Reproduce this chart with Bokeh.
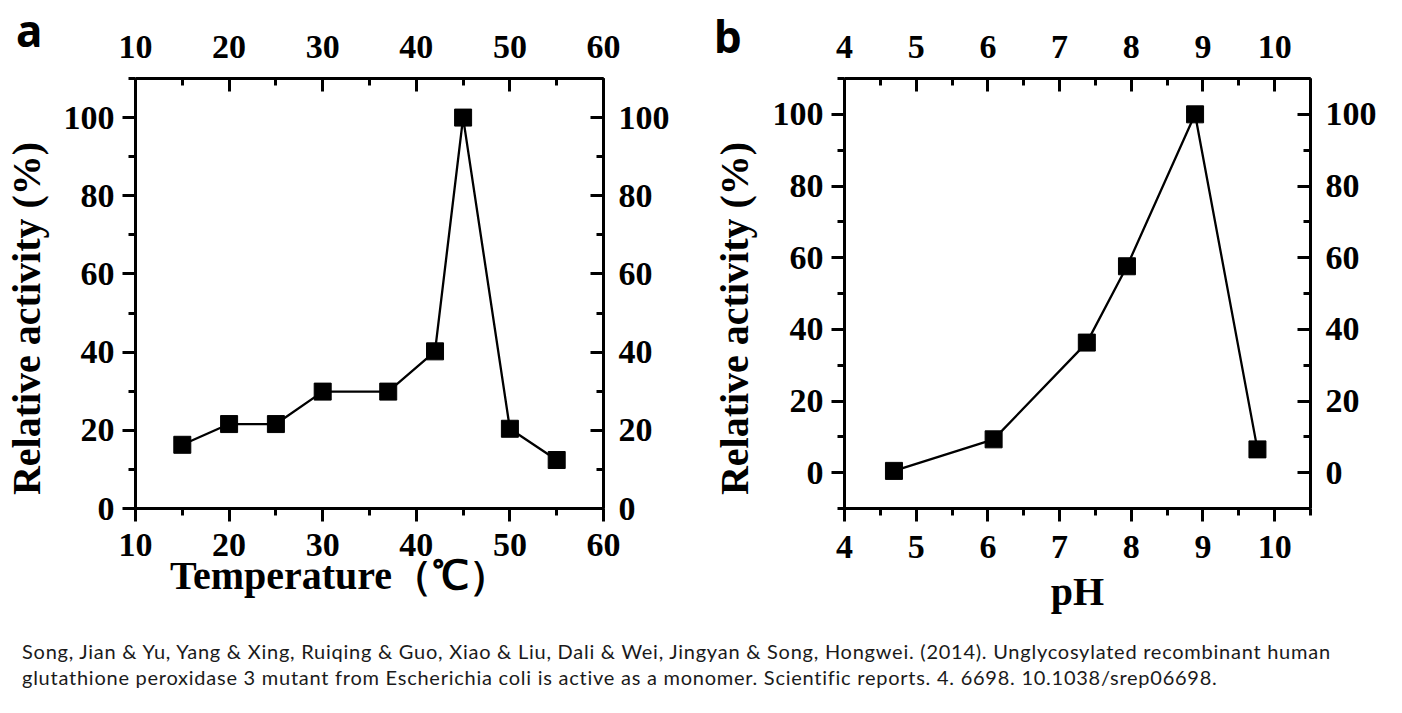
from bokeh.plotting import figure
from bokeh.models import LinearAxis, SingleIntervalTicker, Range1d, Div
from bokeh.layouts import column, row
from bokeh.embed import file_html
from bokeh.resources import INLINE

# panel a: temperature profile
temp_c = [15, 20, 25, 30, 37, 42, 45, 50, 55]
temp_activity = [16.3, 21.6, 21.6, 29.9, 29.9, 40.2, 100.0, 20.4, 12.4]

# panel b: pH profile
ph_values = [4.69, 6.08, 7.38, 7.94, 8.89, 9.76]
ph_activity = [0.5, 9.3, 36.3, 57.6, 100.0, 6.5]

y_label = "Relative activity (%)"
temp_label = "Temperature（℃）"
ph_label = "pH"
panel_letters = ["a", "b"]

citation_lines = [
    "Song, Jian & Yu, Yang & Xing, Ruiqing & Guo, Xiao & Liu, Dali & Wei, Jingyan & Song, Hongwei. (2014). Unglycosylated recombinant human",
    "glutathione peroxidase 3 mutant from Escherichia coli is active as a monomer. Scientific reports. 4. 6698. 10.1038/srep06698.",
]

SERIF = "Liberation Serif"
NBSP = "\u00a0"


def add_axis(p, side, interval, standoff, label=None, label_standoff=0):
    ax = LinearAxis(ticker=SingleIntervalTicker(interval=interval, num_minor_ticks=2))
    ax.axis_line_width = 3
    ax.major_tick_line_width = 3
    ax.minor_tick_line_width = 3
    ax.major_label_text_font = SERIF
    ax.major_label_text_font_style = "bold"
    ax.major_label_text_font_size = "34px"
    ax.major_label_text_color = "black"
    ax.major_label_standoff = standoff
    if side in ("left", "below"):
        ax.major_tick_out, ax.major_tick_in = 13, 0
        ax.minor_tick_out, ax.minor_tick_in = 7, 0
    else:
        ax.major_tick_out, ax.major_tick_in = 0, 13
        ax.minor_tick_out, ax.minor_tick_in = 0, 7
    if label:
        ax.axis_label = label
        ax.axis_label_text_font = SERIF
        ax.axis_label_text_font_style = "bold"
        ax.axis_label_text_font_size = "40px"
        ax.axis_label_text_color = "black"
        ax.axis_label_standoff = label_standoff
    p.add_layout(ax, side)
    return ax


def make_panel(width, borders, xr, yr, x_int, xs, ys, ylab_standoff, xlabel, bottom_standoff, xl_standoff):
    p = figure(width=width, height=642, x_range=Range1d(*xr), y_range=Range1d(*yr),
               x_axis_location=None, y_axis_location=None, tools="",
               output_backend="svg", toolbar_location=None,
               min_border_left=borders[0], min_border_right=borders[1],
               min_border_top=borders[2], min_border_bottom=borders[3])
    p.grid.visible = False
    p.outline_line_color = None
    p.background_fill_color = "white"
    p.border_fill_color = "white"

    add_axis(p, "left", 20, 8, y_label + NBSP * 5, ylab_standoff)
    add_axis(p, "right", 20, 15)
    add_axis(p, "above", x_int, 21)
    add_axis(p, "below", x_int, bottom_standoff, xlabel, xl_standoff)

    p.line(xs, ys, line_color="black", line_width=2.3)
    p.scatter(xs, ys, marker="square", size=17, fill_color="black", line_color="black")
    return p


pa = make_panel(708, (135, 105, 78, 134), (10, 60), (0, 110), 10, temp_c, temp_activity, 12,
                temp_label + NBSP * 6, 12, -6)
pb = make_panel(690, (135, 88, 77, 128), (4, 10.5), (-10, 110), 1, ph_values, ph_activity, 13,
                ph_label, 14, 8)

# panel letters sit above the figures, lifted out of the caption block
letter_style = ("position:absolute;z-index:10;font-family:'Noto Sans';font-weight:bold;"
                "font-size:44px;line-height:44px;color:black;letter-spacing:0;")
letters_html = (
    f'<span style="{letter_style}left:16px;top:-634px">{panel_letters[0]}</span>'
    f'<span style="{letter_style}left:714px;top:-628px">{panel_letters[1]}</span>'
)
cite_html = '<div style="position:relative;top:-4px">' + "<br>".join(citation_lines) + "</div>"

cite = Div(text=letters_html + cite_html, width=1398, height=68, margin=(0, 0, 0, 0),
           styles={"position": "relative", "overflow": "visible",
                   "font-family": "Lato", "font-size": "20px", "line-height": "26px",
                   "letter-spacing": "0.75px", "color": "#1a1a1a", "padding-left": "22px",
                   "white-space": "nowrap"})

layout = column(row(pa, pb), cite)

open("out.html", "w").write(file_html(layout, INLINE))
